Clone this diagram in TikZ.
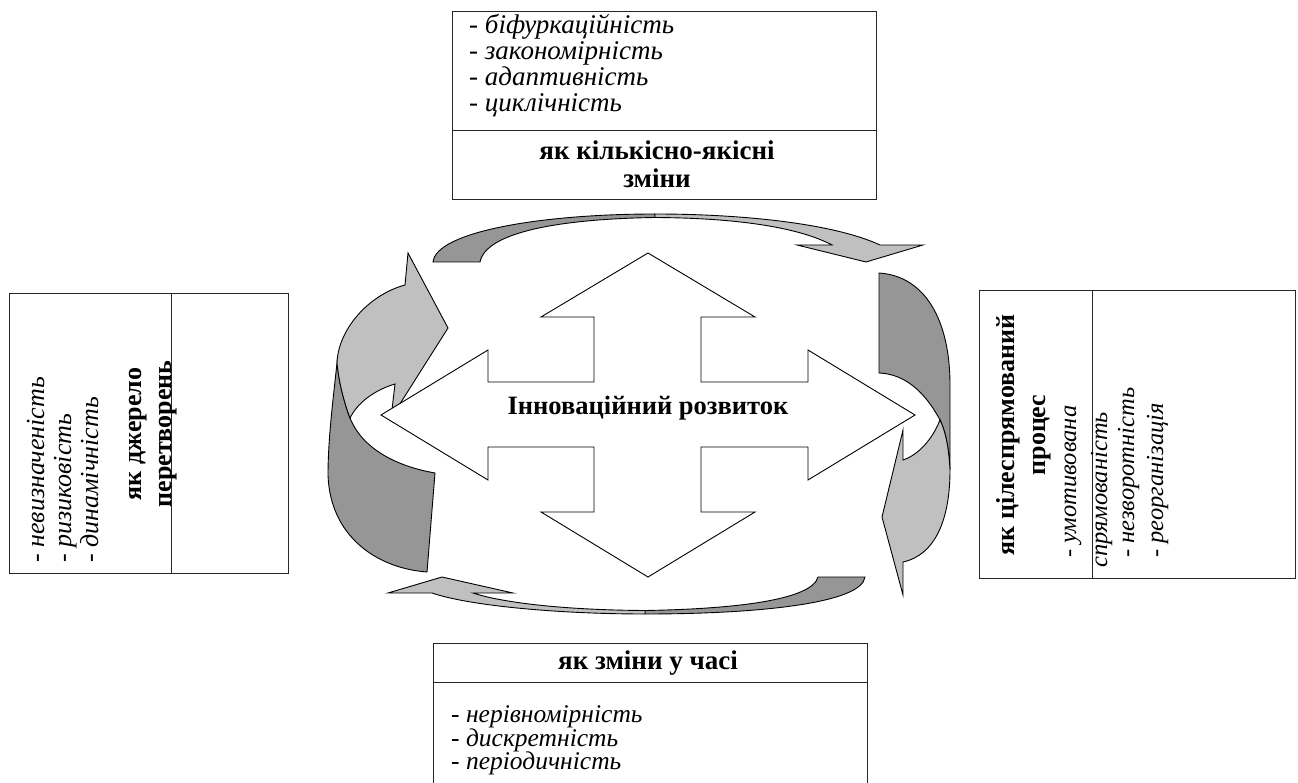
\documentclass[tikz,border=0pt]{standalone}
\usepackage{fontspec}
\setmainfont{Liberation Serif}
\begin{document}
\begin{tikzpicture}[x=1pt,y=-1pt,line join=miter]
\definecolor{ribbondark}{RGB}{150,150,150}
\definecolor{ribbonlight}{RGB}{192,192,192}
\tikzset{
  dark/.style={fill=ribbondark,draw=black,line width=0.9pt},
  light/.style={fill=ribbonlight,draw=black,line width=0.9pt},
  frame/.style={draw=black!85,line width=1pt},
  cross/.style={fill=white,draw=black,line width=0.9pt},
  titem/.style={font=\fontsize{27}{26}\selectfont\itshape,inner sep=0pt},
  bitem/.style={font=\fontsize{25.5}{23.5}\selectfont\itshape,inner sep=0pt},
  item/.style={font=\fontsize{26}{24}\selectfont\itshape,inner sep=0pt},
  ritem/.style={font=\fontsize{24.5}{24}\selectfont\itshape,inner sep=0pt},
  title/.style={font=\fontsize{27}{28}\selectfont\bfseries,inner sep=0pt},
  vtitle/.style={font=\fontsize{26}{28}\selectfont\bfseries,inner sep=0pt},
}
\useasboundingbox (0,0) rectangle (1298,783);

% ---- curved ribbon arrows ----
% top: left to right, head pointing down
\draw[dark] (433,262) .. controls (436,232) and (540,214) .. (655,214) -- (655,217.5)
  .. controls (560,219) and (486,232) .. (480,262) -- cycle;
\draw[light] (655,214) .. controls (745,214) and (835,224) .. (880,245) -- (923,245) -- (866,262)
  -- (797,245) -- (832,245) .. controls (800,228) and (740,218) .. (655,217.5) -- cycle;
% bottom: right to left, head pointing up
\draw[dark] (865,577) .. controls (862,603) and (760,614) .. (645,614) -- (645,610.5)
  .. controls (735,609) and (812,600) .. (818,577) -- cycle;
\draw[light] (645,614) .. controls (560,614) and (470,606) .. (432,593) -- (388,593) -- (442,577)
  -- (513,593) -- (473,593) .. controls (500,602) and (560,610) .. (645,610.5) -- cycle;
% left: bottom to top, head pointing right
\draw[dark] (337,363) .. controls (333,400) and (328,440) .. (328,475)
  .. controls (330,535) and (375,568) .. (427,572) -- (435,473)
  .. controls (395,466) and (362,448) .. (350,418)
  .. controls (344,402) and (339,383) .. (337,363) -- cycle;
\draw[light] (337,363) .. controls (338,330) and (368,295) .. (405,285) -- (408,253) -- (448,328)
  -- (391,418) -- (395,384) .. controls (375,390) and (358,402) .. (350,418)
  .. controls (344,402) and (339,383) .. (337,363) -- cycle;
% right: top to bottom, head pointing left
\draw[dark] (879,273) .. controls (925,276) and (950,320) .. (950,385) -- (950,470)
  .. controls (949,450) and (946,432) .. (940,420)
  .. controls (925,392) and (905,374) .. (879,373) -- cycle;
\draw[light] (940,420) .. controls (932,440) and (918,455) .. (903,460) -- (903,430) -- (882,517)
  -- (903,595) -- (903,562) .. controls (935,555) and (950,520) .. (950,470)
  .. controls (949,450) and (946,432) .. (940,420) -- cycle;

% ---- four-way arrow ----
\draw[cross] (648,253) -- (755,317) -- (701,317) -- (701,382) -- (808,382) -- (808,350)
  -- (915,415) -- (808,480) -- (808,447) -- (701,447) -- (701,512) -- (755,512)
  -- (648,577) -- (541,512) -- (594,512) -- (594,447) -- (488,447) -- (488,480)
  -- (381,415) -- (488,350) -- (488,382) -- (594,382) -- (594,317) -- (541,317) -- cycle;
\node[font=\fontsize{26.5}{30}\selectfont\bfseries,inner sep=0pt] (core) at (648,408) {Інноваційний розвиток};

% ---- top box ----
\draw[frame] (452,12) rectangle (876,200);
\draw[frame] (452,131) -- (876,131);
\node[titem,anchor=base west] (t1) at (469,34) {- біфуркаційність};
\node[titem,anchor=base west] (t2) at (469,60) {- закономірність};
\node[titem,anchor=base west] (t3) at (469,86) {- адаптивність};
\node[titem,anchor=base west] (t4) at (469,112) {- циклічність};
\node[title,anchor=base] (tt1) at (657,160) {як кількісно-якісні};
\node[title,anchor=base] (tt2) at (657,188) {зміни};

% ---- bottom box ----
\draw[frame] (433,783) -- (433,643) -- (867,643) -- (867,783);
\draw[frame] (433,682) -- (867,682);
\node[title,anchor=base] (bt) at (648,669) {як зміни у часі};
\node[bitem,anchor=base west] (b1) at (451,722.5) {- нерівномірність};
\node[bitem,anchor=base west] (b2) at (451,746) {- дискретність};
\node[bitem,anchor=base west] (b3) at (451,769.5) {- періодичність};

% ---- left box ----
\draw[frame] (9,294) rectangle (288,573);
\draw[frame] (171,294) -- (171,573);
\node[item,rotate=90,anchor=base west] (l1) at (44,563) {- невизначеність};
\node[item,rotate=90,anchor=base west] (l2) at (71,563) {- ризиковість};
\node[item,rotate=90,anchor=base west] (l3) at (98,563) {- динамічність};
\node[vtitle,rotate=90,anchor=base] (lt1) at (141,434) {як джерело};
\node[vtitle,rotate=90,anchor=base] (lt2) at (171,434) {перетворень};

% ---- right box ----
\draw[frame] (979,291) rectangle (1295,578);
\draw[frame] (1092,291) -- (1092,578);
\node[vtitle,rotate=90,anchor=base] (rt1) at (1014,435) {як цілеспрямований};
\node[vtitle,rotate=90,anchor=base] (rt2) at (1045,435) {процес};
\node[ritem,rotate=90,anchor=base west] (r1) at (1076,558) {- умотивована};
\node[ritem,rotate=90,anchor=base west] (r2) at (1107,568) {спрямованість};
\node[ritem,rotate=90,anchor=base west] (r3) at (1134,558) {- незворотність};
\node[ritem,rotate=90,anchor=base west] (r4) at (1163,558) {- реорганізація};
\end{tikzpicture}
\end{document}
